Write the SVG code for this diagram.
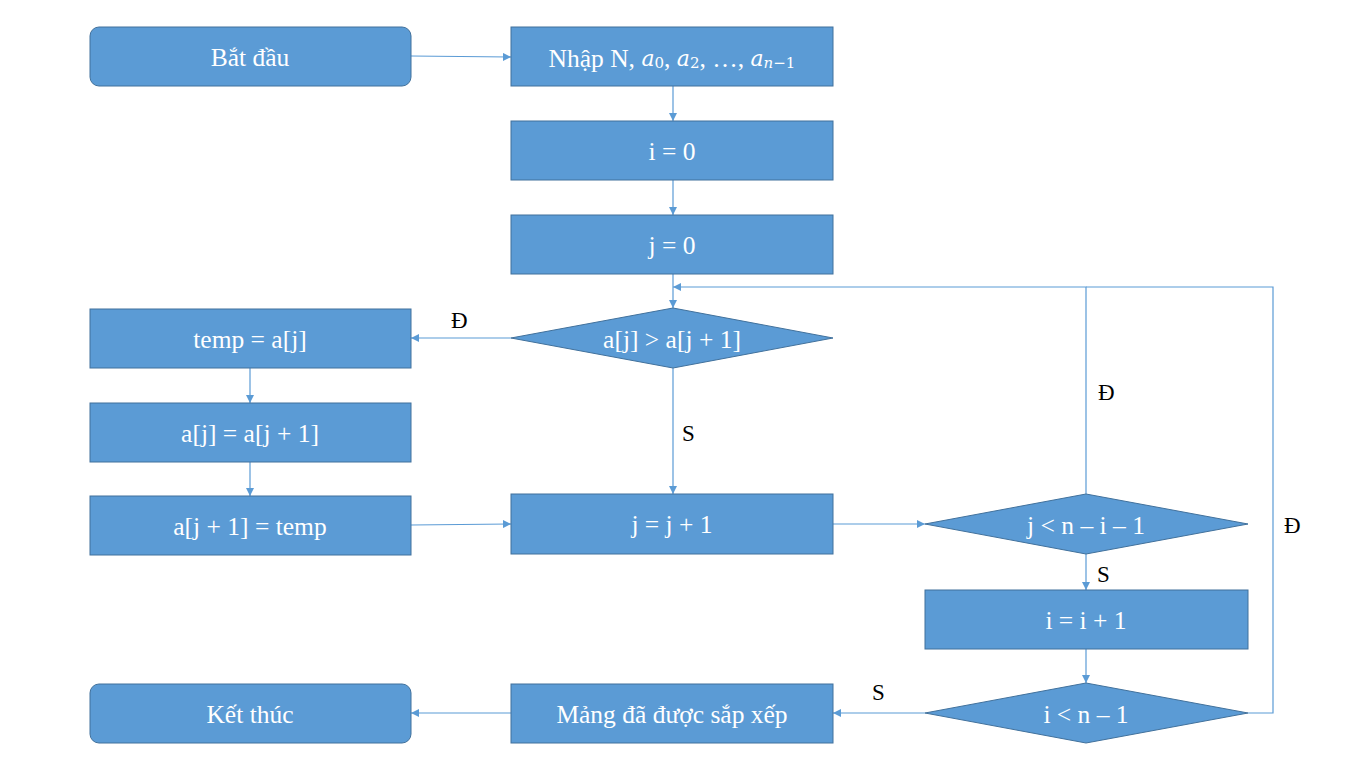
<svg xmlns="http://www.w3.org/2000/svg" width="1366" height="768" viewBox="0 0 1366 768">
<style>
.n{fill:#5B9BD5;stroke:#41719C;stroke-width:1}
.t{font-family:'Liberation Serif','DejaVu Serif',serif;font-size:25.5px;fill:#fff;text-anchor:middle;dominant-baseline:central}
.m{font-family:'DejaVu Serif',serif;font-style:italic;font-size:22px}
.s{font-size:15px;font-style:normal}
.si{font-size:15px}
.l{font-family:'Liberation Serif','DejaVu Serif',serif;font-size:23px;fill:#000}
.c{fill:none;stroke:#5B9BD5;stroke-width:1.2}
</style>
<defs>
<marker id="a" viewBox="0 0 10 10" refX="10" refY="5" markerWidth="8" markerHeight="8" markerUnits="userSpaceOnUse" orient="auto">
<path d="M0,0L10,5L0,10z" fill="#5B9BD5"/>
</marker>
</defs>
<rect width="1366" height="768" fill="#fff"/>
<g id="connectors">
<path class="c" d="M411,56L511,57" marker-end="url(#a)"/>
<path class="c" d="M673,86V121" marker-end="url(#a)"/>
<path class="c" d="M673,180V215" marker-end="url(#a)"/>
<path class="c" d="M673,274V308" marker-end="url(#a)"/>
<path class="c" d="M511,338H411" marker-end="url(#a)"/>
<path class="c" d="M673,368V494" marker-end="url(#a)"/>
<path class="c" d="M250,368V403" marker-end="url(#a)"/>
<path class="c" d="M250,462V496" marker-end="url(#a)"/>
<path class="c" d="M411,525L511,524" marker-end="url(#a)"/>
<path class="c" d="M833,524H925" marker-end="url(#a)"/>
<path class="c" d="M1086,494V287H673" marker-end="url(#a)"/>
<path class="c" d="M1086,554V590" marker-end="url(#a)"/>
<path class="c" d="M1086,649V683" marker-end="url(#a)"/>
<path class="c" d="M1248,713H1273V287H1086"/>
<path class="c" d="M925,713H833" marker-end="url(#a)"/>
<path class="c" d="M511,713H411" marker-end="url(#a)"/>
</g>
<g id="start"><rect class="n" x="90" y="27" width="321" height="59" rx="9"/><text class="t" x="250" y="57">Bắt đầu</text></g>
<g id="input"><rect class="n" x="511" y="27" width="322" height="59"/><text class="t" x="672" y="58">Nhập N, <tspan class="m">a</tspan><tspan class="m s" dy="5">0</tspan><tspan dy="-5">, </tspan><tspan class="m">a</tspan><tspan class="m s" dy="5">2</tspan><tspan dy="-5">, …, </tspan><tspan class="m">a</tspan><tspan class="m si" dy="5">n</tspan><tspan class="m s">−1</tspan></text></g>
<g id="i0"><rect class="n" x="511" y="121" width="322" height="59"/><text class="t" x="672" y="151">i = 0</text></g>
<g id="j0"><rect class="n" x="511" y="215" width="322" height="59"/><text class="t" x="672" y="245">j = 0</text></g>
<g id="cmp"><polygon class="n" points="511,338 673,308 833,338 673,368"/><text class="t" x="672" y="339">a[j] &gt; a[j + 1]</text></g>
<g id="temp"><rect class="n" x="90" y="309" width="321" height="59"/><text class="t" x="250" y="339">temp = a[j]</text></g>
<g id="swap1"><rect class="n" x="90" y="403" width="321" height="59"/><text class="t" x="250" y="433">a[j] = a[j + 1]</text></g>
<g id="swap2"><rect class="n" x="90" y="496" width="321" height="59"/><text class="t" x="250" y="526">a[j + 1] = temp</text></g>
<g id="jinc"><rect class="n" x="511" y="494" width="322" height="60"/><text class="t" x="672" y="524">j = j + 1</text></g>
<g id="jcond"><polygon class="n" points="925,524 1086,494 1248,524 1086,554"/><text class="t" x="1086" y="525">j &lt; n – i – 1</text></g>
<g id="iinc"><rect class="n" x="925" y="590" width="323" height="59"/><text class="t" x="1086" y="620">i = i + 1</text></g>
<g id="icond"><polygon class="n" points="925,713 1086,683 1248,713 1086,743"/><text class="t" x="1086" y="714">i &lt; n – 1</text></g>
<g id="sorted"><rect class="n" x="511" y="684" width="322" height="59"/><text class="t" x="672" y="714">Mảng đã được sắp xếp</text></g>
<g id="end"><rect class="n" x="90" y="684" width="321" height="59" rx="9"/><text class="t" x="250" y="714">Kết thúc</text></g>
<g id="labels">
<text class="l" x="451" y="328">Đ</text>
<text class="l" x="682" y="441">S</text>
<text class="l" x="1098" y="400">Đ</text>
<text class="l" x="1097" y="582">S</text>
<text class="l" x="1284" y="533">Đ</text>
<text class="l" x="872" y="700">S</text>
</g>
</svg>
